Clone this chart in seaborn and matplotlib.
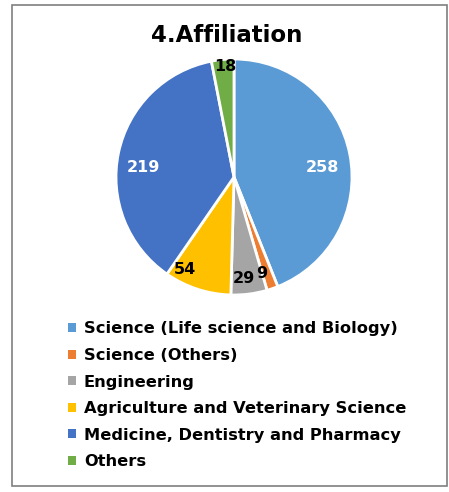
import numpy as np
import matplotlib
matplotlib.use("Agg")
import matplotlib.pyplot as plt
from matplotlib.patches import Rectangle, Patch
import seaborn as sns

categories = ["Science (Life science and Biology)", "Science (Others)", "Engineering",
              "Agriculture and Veterinary Science", "Medicine, Dentistry and Pharmacy", "Others"]
values = [258, 9, 29, 54, 219, 18]
title = "4.Affiliation"

sns.set_theme(style="white")
plt.rcParams['font.family'] = ['DejaVu Sans']
plt.rcParams['text.color'] = 'black'
colors = sns.color_palette(["#5B9BD5", "#ED7D31", "#A5A5A5", "#FFC000", "#4472C4", "#70AD47"])
label_colors = ["white", "black", "black", "black", "white", "black"]
label_radius = [0.75, 0.85, 0.86, 0.89, 0.77, 0.94]
label_dangle = [-4.5, -3, -2, -10, 5.5, -1]

fig = plt.figure(figsize=(4.49, 4.92), dpi=100)
fig.patches.append(Rectangle((12/449, 1-486/492), 435/449, 481/492, transform=fig.transFigure,
                             fill=False, edgecolor="#7f7f7f", linewidth=1.2))
fig.text(227/449, 1-35/492, title, ha="center", va="center", fontsize=16.5, fontweight="bold",
         color="black")

r_px = 118
cx, cy = 234, 177
ax = fig.add_axes([(cx - r_px)/449, 1-(cy + r_px)/492, 2*r_px/449, 2*r_px/492])
wedges, _ = ax.pie(values, colors=colors, startangle=90, counterclock=False,
                   wedgeprops=dict(edgecolor="white", linewidth=2))
ax.set_aspect("equal")
ax.set_xlim(-1, 1); ax.set_ylim(-1, 1)
for w, v, c, r, da in zip(wedges, values, label_colors, label_radius, label_dangle):
    ang = np.deg2rad((w.theta1 + w.theta2) / 2 + da)
    ax.text(r*np.cos(ang), r*np.sin(ang), str(v), ha="center", va="center",
            fontsize=11.5, fontweight="bold", color=c)

handles = [Patch(facecolor=col, edgecolor="none") for col in colors]
leg = fig.legend(handles, categories, loc="upper left", bbox_to_anchor=(62/449, 1-315/492),
                 frameon=False, prop=dict(size=11.7, weight="bold"), handlelength=0.45,
                 handleheight=0.45, handletextpad=0.5, labelspacing=0.71, borderaxespad=0)
for t in leg.get_texts():
    t.set_color("black")
fig.savefig("out.png", dpi=100)
